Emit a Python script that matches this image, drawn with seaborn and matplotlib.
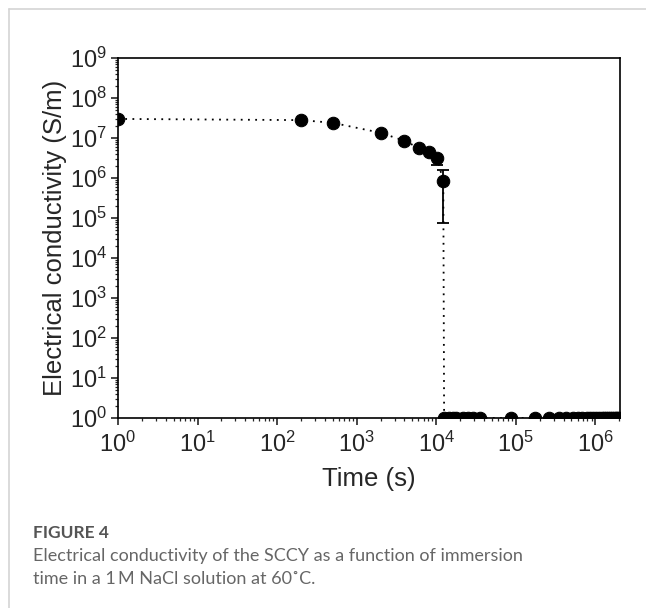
import numpy as np
import pandas as pd
import matplotlib
matplotlib.use("Agg")
import matplotlib.pyplot as plt
import matplotlib.ticker as mticker
from matplotlib.lines import Line2D
import seaborn as sns

# ---- data ----
time_s = [1, 200, 500, 2000, 4000, 6100, 8200, 10200, 12300,
          12600, 14400, 16200, 18000, 21600, 25200, 28800, 36000,
          86400, 172800, 259200, 345600, 432000, 518400, 604800,
          691200, 777600, 864000, 950400, 1036800, 1123200, 1209600,
          1296000, 1382400, 1468800, 1555200, 1641600, 1728000,
          1814400, 1900800, 1987200]
conductivity = [3.0e7, 2.8e7, 2.4e7, 1.35e7, 8.5e6, 5.6e6, 4.5e6, 3.2e6, 8.5e5,
                1, 1, 1, 1, 1, 1, 1, 1,
                1, 1, 1, 1, 1, 1, 1,
                1, 1, 1, 1, 1, 1, 1,
                1, 1, 1, 1, 1, 1,
                1, 1, 1]
err_time = [10200, 12300]
err_value = [3.2e6, 8.5e5]
err_low = [2.1e6, 7.5e4]
err_high = [3.2e6, 1.6e6]

xticks = [1e0, 1e1, 1e2, 1e3, 1e4, 1e5, 1e6]
yticks = [1e0, 1e1, 1e2, 1e3, 1e4, 1e5, 1e6, 1e7, 1e8, 1e9]

df = pd.DataFrame({"Time (s)": time_s, "Electrical conductivity (S/m)": conductivity})

sns.set_style("white")
plt.rcParams["font.family"] = ["Liberation Sans", "DejaVu Sans"]
plt.rcParams["mathtext.fontset"] = "custom"
plt.rcParams["mathtext.rm"] = "Liberation Sans"
plt.rcParams["mathtext.it"] = "Liberation Sans:italic"
plt.rcParams["mathtext.bf"] = "Liberation Sans:bold"

fig = plt.figure(figsize=(6.46, 6.08), dpi=100)
ax = fig.add_axes([118 / 646, 1 - 418 / 608, (620 - 118) / 646, (418 - 58) / 608])

sns.lineplot(data=df, x="Time (s)", y="Electrical conductivity (S/m)", ax=ax,
             color="black", linestyle=(0, (1, 3)), linewidth=1.3, marker="o",
             markersize=9, markeredgecolor="black", sort=False,
             estimator=None)

yerr = np.array([[v - lo for v, lo in zip(err_value, err_low)],
                 [hi - v for v, hi in zip(err_value, err_high)]])
ax.errorbar(err_time, err_value, yerr=yerr, fmt="none", ecolor="black",
            elinewidth=1.3, capsize=4, capthick=1.3)

ax.set_xscale("log")
ax.set_yscale("log")
ax.set_xlim(1, 2.05e6)
ax.set_ylim(1, 1e9)
ax.set_xticks(xticks)
ax.set_yticks(yticks)
ax.set_xlabel("Time (s)", fontsize=18.5, labelpad=7)
ax.set_ylabel("Electrical conductivity (S/m)", fontsize=18.5, labelpad=2)

for s in ax.spines.values():
    s.set_linewidth(1.2)
    s.set_color("black")
ax.tick_params(axis="both", which="major", direction="out", length=5, width=1.2,
               labelsize=17, bottom=True, left=True, top=False, right=False, pad=3)
ax.tick_params(axis="x", which="major", pad=5)
ax.tick_params(axis="both", which="minor", direction="out", length=2.5, width=0.9,
               bottom=True, left=True, top=False, right=False)
ax.xaxis.set_minor_locator(mticker.LogLocator(base=10, subs=np.arange(2, 10), numticks=20))
ax.yaxis.set_minor_locator(mticker.LogLocator(base=10, subs=np.arange(2, 10), numticks=20))
ax.xaxis.set_minor_formatter(mticker.NullFormatter())
ax.yaxis.set_minor_formatter(mticker.NullFormatter())

# page-style border lines
fig.add_artist(Line2D([9 / 646, 9 / 646], [0, 1 - 9 / 608], color="#d4d4d4", linewidth=1.2))
fig.add_artist(Line2D([9 / 646, 1], [1 - 9 / 608, 1 - 9 / 608], color="#d4d4d4", linewidth=1.2))

cap_font = ["Lato", "DejaVu Sans"]
fig.text(33 / 646, 1 - 533 / 608, "FIGURE 4", fontsize=12.5, color="#555555",
         family=cap_font, fontweight="bold", va="center", ha="left")
fig.text(33 / 646, 1 - 556 / 608, "Electrical conductivity of the SCCY as a function of immersion",
         fontsize=13, color="#666666", family=cap_font, va="center", ha="left")
fig.text(33 / 646, 1 - 579 / 608, "time in a 1\u2009M NaCl solution at 60\u02daC.",
         fontsize=13, color="#666666", family=cap_font, va="center", ha="left")

fig.savefig("out.png", dpi=100)
